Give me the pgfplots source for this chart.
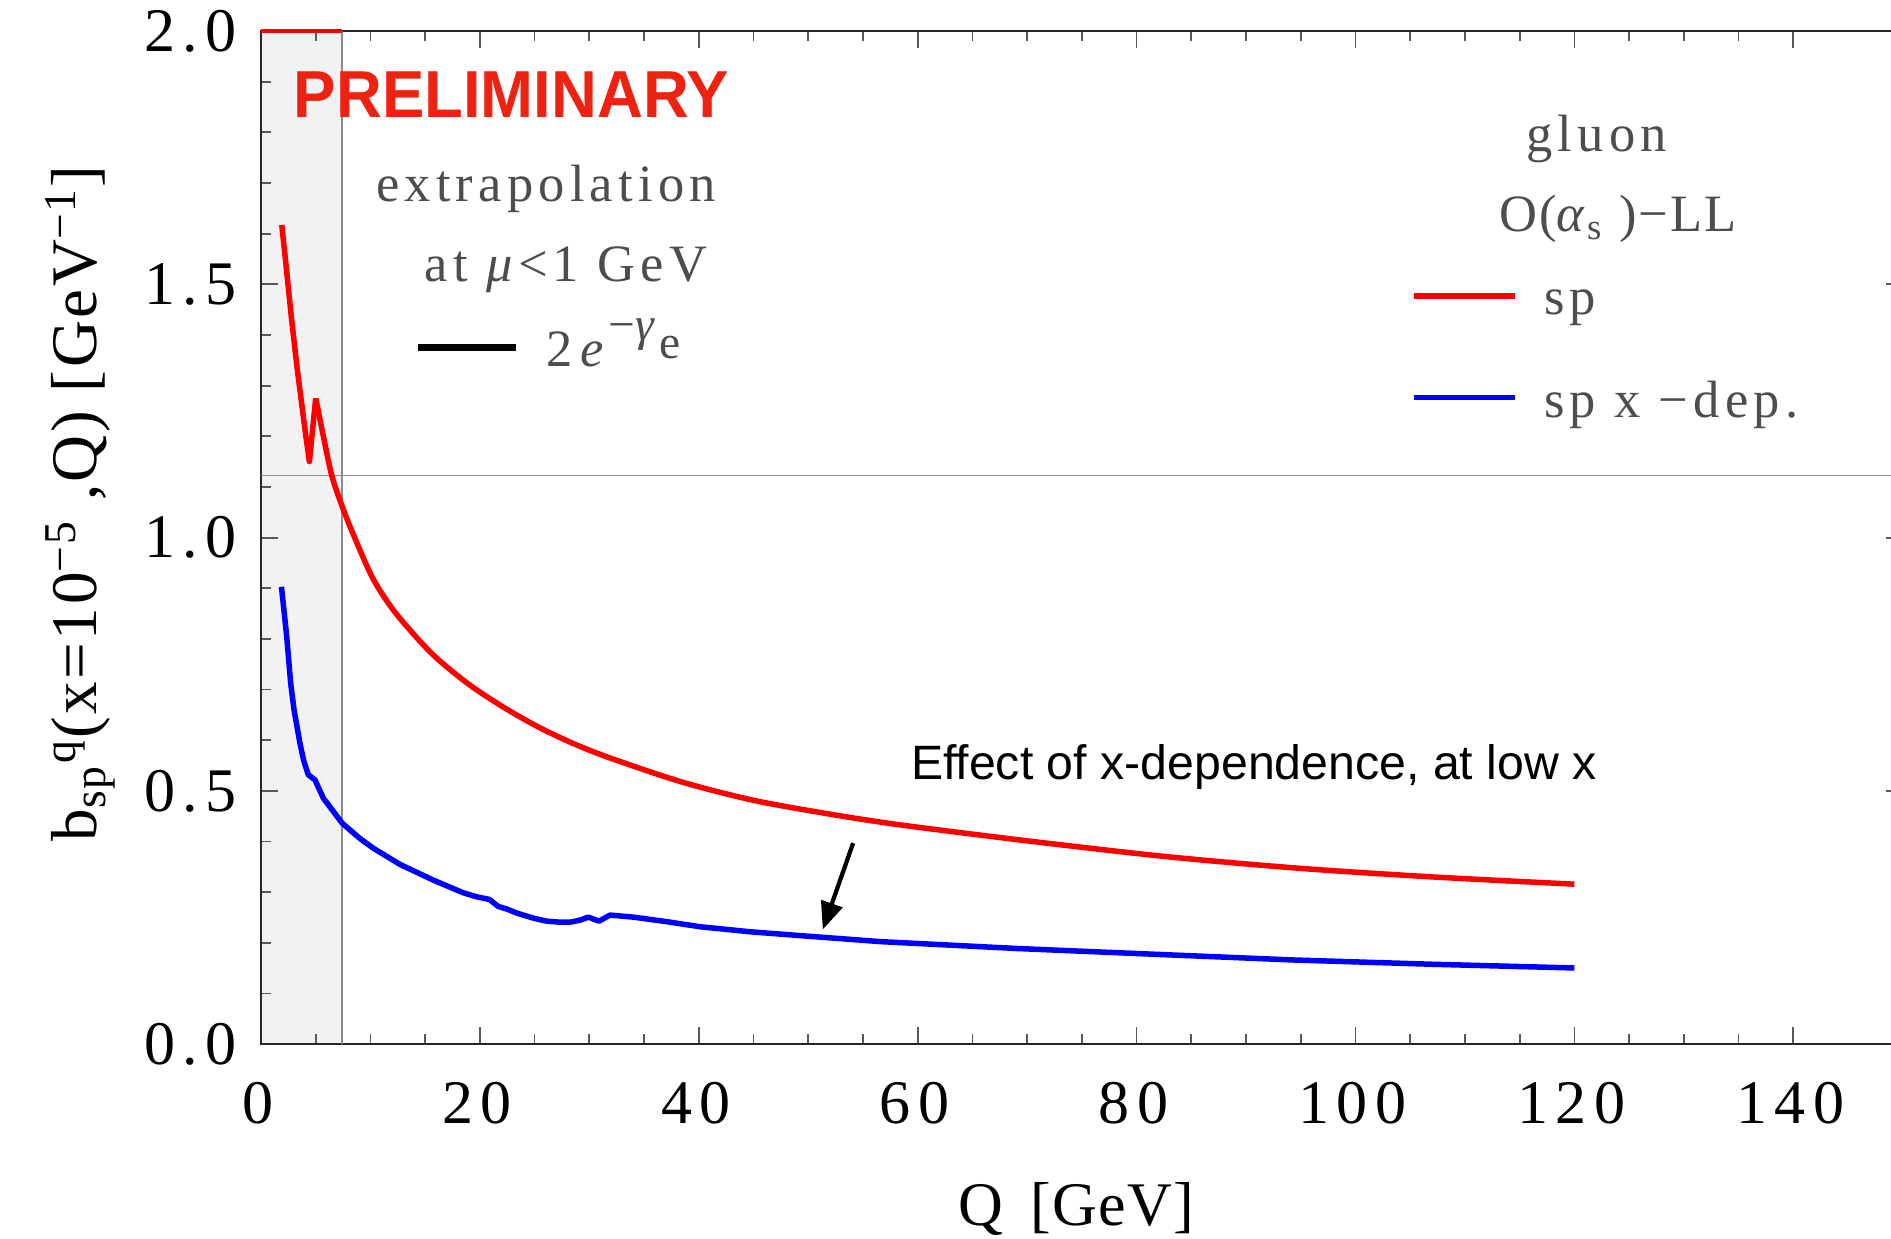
\documentclass[border=0pt]{standalone}
\usepackage{fontspec}
\setmainfont{Liberation Serif}
\usepackage{pgfplots}
\pgfplotsset{compat=1.18}
\usetikzlibrary{arrows.meta}
\newfontfamily\tickf[LetterSpace=12]{Liberation Serif}
\newfontfamily\labf[LetterSpace=4]{Liberation Serif}
\newfontfamily\xlabf[LetterSpace=2]{Liberation Serif}
\newfontfamily\txtf[LetterSpace=10]{Liberation Serif}
\newfontfamily\sansf{Liberation Sans}
\definecolor{txtgray}{RGB}{77,77,77}
\definecolor{prelred}{RGB}{238,34,17}
\definecolor{shadegray}{RGB}{242,242,242}
\begin{document}
\begin{tikzpicture}
\begin{axis}[
  set layers=standard,
  at={(0pt,0pt)}, anchor=south west,
  scale only axis, width=328.35pt, height=202.66pt,
  xmin=0, xmax=150, ymin=0, ymax=2,
  clip=false,
  xtick={0,20,40,60,80,100,120,140},
  ytick={0,0.5,1,1.5,2},
  minor x tick num=3, minor y tick num=4,
  tick align=inside,
  major tick length=3.4pt, minor tick length=2.1pt,
  tick style={line width=0.35pt, color=black!65},
  axis line style={line width=0.45pt, color=black!85},
  /pgf/number format/assume math mode=true,
  xticklabel style={font={\tickf\fontsize{12.4}{14}\selectfont}, anchor=base, yshift=-15.9pt, xshift=-0.6pt, text=black},
  yticklabel style={font={\tickf\fontsize{12.4}{14}\selectfont}, anchor=east, inner sep=0pt, xshift=-4.6pt, text=black},
  yticklabel={\pgfmathprintnumber[fixed,fixed zerofill,precision=1]{\tick}},
]
\begin{pgfonlayer}{axis background}
\fill[fill=shadegray] (axis cs:0,0) rectangle (axis cs:7.4,2);
\end{pgfonlayer}
\draw[black!45, line width=0.3pt] (axis cs:7.4,0) -- (axis cs:7.4,2);
\draw[black!45, line width=0.3pt] (axis cs:0,1.12292) -- (axis cs:150,1.12292);
% red, low-Q part with kink
\addplot[red, line width=1.1pt, line join=round, mark=none] coordinates {
(1.9,1.617) (2.3,1.535) (2.8,1.43) (3.3,1.335) (3.8,1.25) (4.1,1.20) (4.42,1.150) (5.0,1.275)
};
% red, smooth part
\addplot[red, line width=1.1pt, smooth, mark=none] coordinates {
(5.0,1.275) (5.7,1.20) (6.46,1.123) (7.43,1.061) (8.5,1.003) (10.26,0.918) (12.31,0.851)
(15.57,0.772) (18.83,0.713) (22.1,0.666) (25.36,0.626) (28.6,0.593) (31.9,0.565) (38.4,0.518)
(44.9,0.482) (51.5,0.456) (58.4,0.433) (70.6,0.400) (82.9,0.370) (95.1,0.347)
(107.3,0.330) (120,0.316)
};
% blue
\addplot[blue, line width=1.1pt, line join=round, mark=none] coordinates {
(1.87,0.903) (2.35,0.805) (2.71,0.713) (3.02,0.660) (3.56,0.594) (3.9,0.560) (4.32,0.532)
(4.93,0.522) (5.69,0.486) (7.43,0.436) (9.05,0.406) (10.26,0.387) (12.7,0.355)
(15.74,0.324) (18.48,0.299) (19.71,0.291) (20.86,0.286) (21.68,0.272) (22.45,0.267)
(23.36,0.259) (24.88,0.249) (26.1,0.243) (27.32,0.241) (28.23,0.241) (29.15,0.245)
(29.91,0.251) (30.88,0.243) (31.89,0.255) (34.0,0.251) (37.07,0.242) (40.1,0.232)
(44.7,0.222) (49.25,0.2145) (56.6,0.2026) (69.1,0.189) (81.7,0.1776) (94.3,0.1664)
(106.9,0.158) (120,0.1506)
};
\draw[red, line width=0.8pt] (axis cs:0,2) -- (axis cs:7.4,2);
\draw[-{Triangle[length=5.5pt,width=4.4pt]}, line width=0.85pt, black] (axis cs:54.1,0.397) -- (axis cs:51.33,0.2265);
\end{axis}
% annotations
\node[anchor=base west, inner sep=0pt, xscale=0.955, text=prelred, font={\sansf\bfseries\fontsize{13.3}{15}\selectfont}] at (6.4pt,185.3pt) {PRELIMINARY};
\node[anchor=base, inner sep=0pt, text=txtgray, font={\txtf\fontsize{10.5}{12}\selectfont}] at (57.0pt,168.5pt) {extrapolation};
\node[anchor=base, inner sep=0pt, text=txtgray, font={\txtf\fontsize{10.5}{12}\selectfont}] at (61.0pt,152.5pt) {at \textit{μ}<1 GeV};
\draw[black, line width=1.4pt] (31.5pt,139.4pt) -- (51pt,139.4pt);
\node[anchor=base west, inner sep=0pt, text=txtgray, font={\txtf\fontsize{10.5}{12}\selectfont}] at (56.8pt,135.5pt) {2\kern0.15em\textit{e}\raisebox{0.5em}{\fontsize{9.5}{9.5}\selectfont −\textit{γ}\raisebox{-0.38em}{e}}};
\node[anchor=base, inner sep=0pt, text=txtgray, font={\txtf\fontsize{10.5}{12}\selectfont}] at (267.1pt,178.5pt) {gluon};
\node[anchor=base, inner sep=0pt, text=txtgray, font={\labf\fontsize{10.5}{12}\selectfont}] at (271.4pt,162.5pt) {O(\textit{α}\textsubscript{s} )−LL};
\draw[red, line width=1.1pt] (230.6pt,149.7pt) -- (250.8pt,149.7pt);
\node[anchor=base west, inner sep=0pt, text=txtgray, font={\txtf\fontsize{10.5}{12}\selectfont}] at (256.4pt,145.9pt) {sp};
\draw[blue, line width=1.1pt] (230.6pt,129.4pt) -- (250.8pt,129.4pt);
\node[anchor=base west, inner sep=0pt, text=txtgray, font={\txtf\fontsize{10.5}{12}\selectfont}] at (256.4pt,125.4pt) {sp x −dep.};
\node[anchor=base west, inner sep=0pt, text=black, font={\sansf\fontsize{9.65}{12}\selectfont}] at (129.8pt,52.9pt) {Effect of x-dependence, at low x};
% axis labels
\node[anchor=base, inner sep=0pt, text=black, font={\xlabf\fontsize{12.4}{14}\selectfont}] at (163.0pt,-36.3pt) {Q\hspace{0.45em}[GeV]};
\node[anchor=base, rotate=90, inner sep=0pt, text=black, font={\labf\fontsize{13}{15}\selectfont}] at (-32.8pt,108.2pt) {b\textsubscript{sp}\textsuperscript{q}(x=10\textsuperscript{−5} ,Q) [GeV\textsuperscript{−1}]};
\pgfresetboundingbox
\useasboundingbox (-52.2pt,-38.94pt) rectangle (326pt,208.86pt);
\end{tikzpicture}
\end{document}
